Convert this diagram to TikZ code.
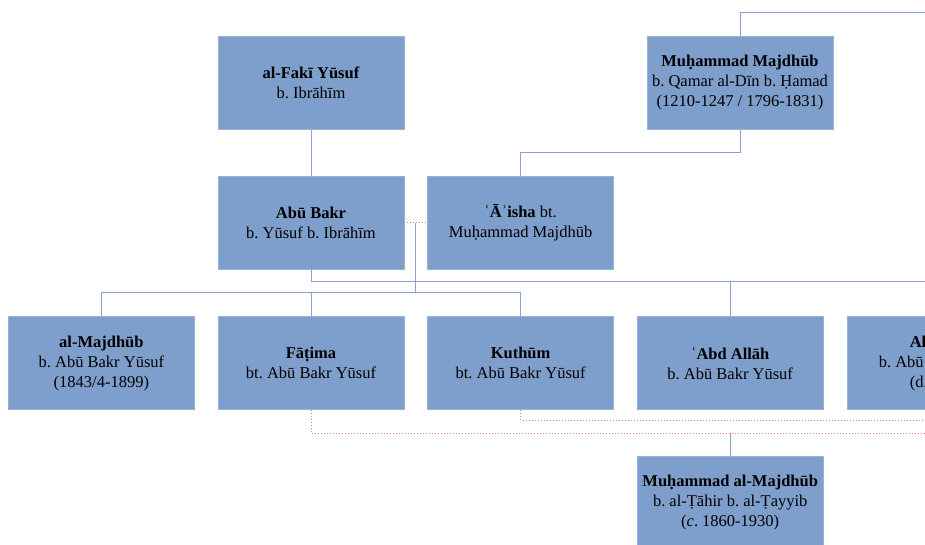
\documentclass[tikz,border=0pt]{standalone}
\usepackage{fontspec}
\setmainfont{Liberation Serif}
\usepackage{xcolor}
\usetikzlibrary{positioning}
\frenchspacing

\definecolor{boxblue}{RGB}{126,158,204}
\definecolor{linkblue}{RGB}{140,160,210}
\definecolor{marred}{RGB}{236,120,120}

\begin{document}
\begin{tikzpicture}[
        x=1pt, y=-1pt,
        person/.style={fill=boxblue, draw=boxblue!80!white, line width=0.6pt, minimum width=186pt, minimum height=93pt, inner sep=0pt, align=center, font=\fontsize{16.5}{20}\selectfont},
        link/.style={draw=linkblue, line width=1pt},
        marriage/.style={draw=marred, line width=0.9pt, dash pattern=on 1pt off 2pt}
    ]
        \useasboundingbox (0,0) rectangle (925,545);
        \clip (0,0) rectangle (925,545);

        % People
        \node[person] (faki) at (311,83) {\textbf{al-Fakī Yūsuf}\\b. Ibrāhīm};
        \node[person, below=46pt of faki] (abubakr) {\textbf{Abū Bakr}\\b. Yūsuf b. Ibrāhīm};
        \node[person, right=23pt of abubakr] (aisha) {\textbf{ʿĀʾisha} bt.\\Muḥammad Majdhūb};
        \node[person] (muhmaj) at (740,83) {\textbf{Muḥammad Majdhūb}\\b. Qamar al-Dīn b. Ḥamad\\(1210-1247 / 1796-1831)};
        \node[person, below=47pt of abubakr] (fatima) {\textbf{Fāṭima}\\bt. Abū Bakr Yūsuf};
        \node[person, left=23pt of fatima] (majdhub) {\textbf{al-Majdhūb}\\b. Abū Bakr Yūsuf\\(1843/4-1899)};
        \node[person, right=23pt of fatima] (kuthum) {\textbf{Kuthūm}\\bt. Abū Bakr Yūsuf};
        \node[person, right=23pt of kuthum] (abdallah) {\textbf{ʿAbd Allāh}\\b. Abū Bakr Yūsuf};
        \node[person, right=23pt of abdallah] (alx) {\makebox[60pt][l]{\textbf{Al-}}\\\makebox[122pt][l]{b. Abū}\\\makebox[60pt][l]{(d.}};
        \node[person, below=46pt of abdallah] (muhalmaj) {\textbf{Muḥammad al-Majdhūb}\\b. al-Ṭāhir b. al-Ṭayyib\\(\textit{c}. 1860-1930)};

        % Edge of the page
        \coordinate (edge) at (930,13);

        % Descent
        \draw[link] (faki) -- (abubakr);
        \draw[link] (muhmaj.north) |- (edge);
        \draw[link] (muhmaj.south) -- ++(0,23) -| (aisha.north);
        \draw[link] (abubakr.south) -- ++(0,12) coordinate (sib2) -- (sib2 -| edge);
        \draw[link] (abdallah.north) -- (abdallah.north |- sib2);

        % Marriages
        \draw[marriage] (abubakr.east) -- coordinate[midway] (wed1) (aisha.west);
        \draw[link] (wed1) -- ++(0,70) coordinate (sib1);
        \draw[link] (majdhub.north) |- (kuthum.north |- sib1) -- (kuthum.north);
        \draw[link] (fatima.north) -- (fatima.north |- sib1);
        \draw[marriage] (kuthum.south) -- ++(0,10) coordinate (wed2) -- (wed2 -| edge);
        \draw[marriage] (fatima.south) -- ++(0,23) coordinate (wed3) -- (wed3 -| edge);
        \draw[link] (muhalmaj.north) -- (muhalmaj.north |- wed3);
    \end{tikzpicture}
\end{document}
